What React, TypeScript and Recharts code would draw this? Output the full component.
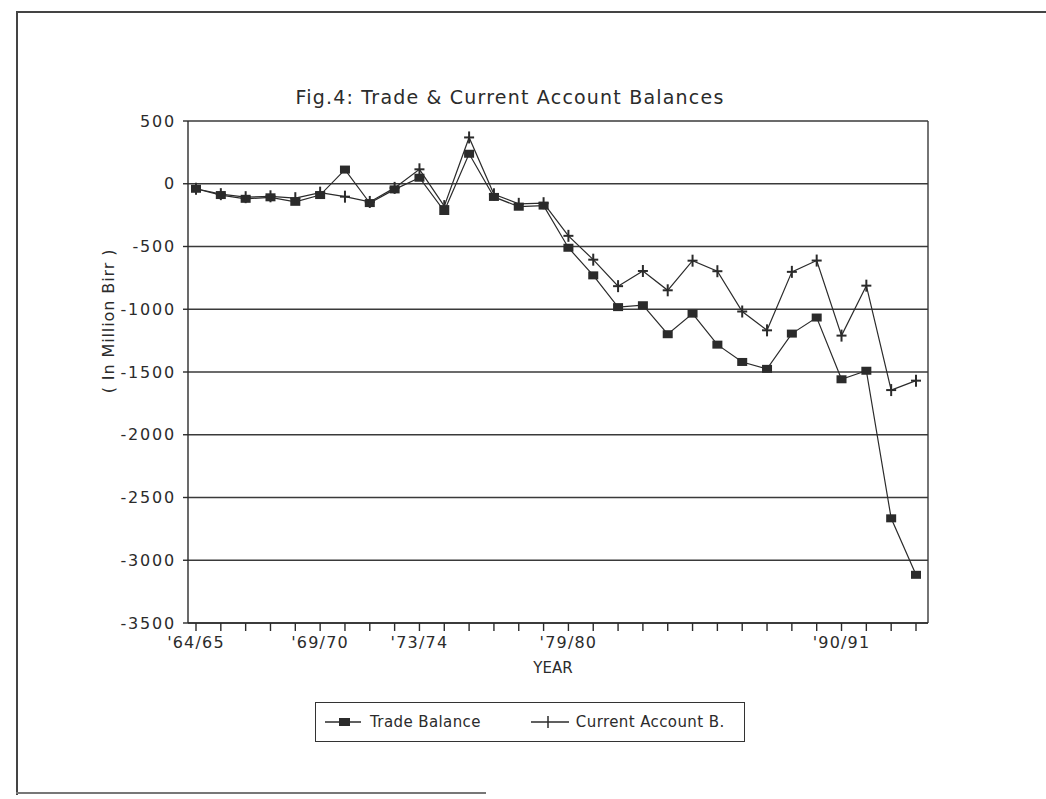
import { CartesianGrid, Line, LineChart, XAxis, YAxis } from "recharts";

const years = [
	"'64/65", "'65/66", "'66/67", "'67/68", "'68/69", "'69/70", "'70/71", "'71/72",
	"'72/73", "'73/74", "'74/75", "'75/76", "'76/77", "'77/78", "'78/79", "'79/80",
	"'80/81", "'81/82", "'82/83", "'83/84", "'84/85", "'85/86", "'86/87", "'87/88",
	"'88/89", "'89/90", "'90/91", "'91/92", "'92/93", "'93/94",
];

const tradeBalance = [
	-40, -90, -120, -108, -144, -90, 113, -154, -45, 48, -217, 239, -105, -183, -174,
	-510, -730, -983, -968, -1199, -1035, -1282, -1420, -1475, -1194, -1066, -1558,
	-1490, -2666, -3116,
];

const currentAccount = [
	-40, -83, -107, -100, -115, -71, -103, -145, -33, 115, -178, 369, -84, -160, -155,
	-415, -605, -816, -695, -849, -613, -697, -1018, -1168, -702, -612, -1210, -812,
	-1644, -1569,
];

const shownYears = ["'64/65", "'69/70", "'73/74", "'79/80", "'90/91"];
const yTicks = [500, 0, -500, -1000, -1500, -2000, -2500, -3000, -3500];

const chartData = years.map((year, i) => ({
	year,
	trade: tradeBalance[i],
	current: currentAccount[i],
}));

const ink = "#2b2b2b";
const font = "'DejaVu Sans', sans-serif";

const SquareDot = (props: any) => {
	const { cx, cy, index } = props;
	if (cx == null || cy == null) return null;
	return <rect key={`sq-${index}`} x={cx - 5} y={cy - 4} width={10} height={8} fill={ink} />;
};

const PlusDot = (props: any) => {
	const { cx, cy, index } = props;
	if (cx == null || cy == null) return null;
	return (
		<g key={`pl-${index}`} stroke={ink} strokeWidth={2}>
			<line x1={cx - 5} y1={cy} x2={cx + 5} y2={cy} />
			<line x1={cx} y1={cy - 6} x2={cx} y2={cy + 6} />
		</g>
	);
};

export default function App() {
	return (
		<div
			style={{
				position: "absolute",
				left: 0,
				top: 0,
				width: 1046,
				height: 799,
				background: "#fff",
				fontFamily: font,
				color: ink,
				overflow: "hidden",
			}}
		>
			{/* scanned page frame */}
			<div style={{ position: "absolute", left: 16, top: 11, width: 1040, height: 782, borderTop: "2px solid #444", borderLeft: "2px solid #444" }} />
			<div style={{ position: "absolute", left: 16, top: 792, width: 470, borderTop: "2px solid #777" }} />

			<div style={{ position: "absolute", left: 210, width: 600, top: 86, textAlign: "center", fontSize: 19, letterSpacing: 1.2 }}>
				Fig.4: Trade &amp; Current Account Balances
			</div>

			<LineChart
				width={1046}
				height={799}
				data={chartData}
				margin={{ top: 121, right: 118, left: 108, bottom: 136 }}
				style={{ position: "absolute", left: 0, top: 0 }}
			>
				<CartesianGrid
					stroke="#3a3a3a"
					strokeWidth={1.4}
					verticalCoordinatesGenerator={({ offset }: any) => [offset.left + offset.width]}
				/>
				<XAxis
					dataKey="year"
					interval={0}
					padding={{ left: 8, right: 12 }}
					tickFormatter={(v: string) => (shownYears.includes(v) ? v : "")}
					tickSize={8}
					tickMargin={6}
					stroke={ink}
					strokeWidth={1.4}
					tick={{ fill: ink, fontSize: 16, fontFamily: font, letterSpacing: 1.2 }}
					height={40}
				/>
				<YAxis
					domain={[-3500, 500]}
					ticks={yTicks}
					interval={0}
					tickSize={5}
					tickMargin={7}
					stroke={ink}
					strokeWidth={1.4}
					tick={{ fill: ink, fontSize: 16, fontFamily: font, letterSpacing: 1.8 }}
					width={80}
				/>
				<Line
					dataKey="trade"
					stroke={ink}
					strokeWidth={1.2}
					dot={SquareDot}
					activeDot={false}
					isAnimationActive={false}
				/>
				<Line
					dataKey="current"
					stroke={ink}
					strokeWidth={1.2}
					dot={PlusDot}
					activeDot={false}
					isAnimationActive={false}
				/>
			</LineChart>

			<div
				style={{
					position: "absolute",
					left: 108,
					top: 321,
					transform: "translate(-50%, -50%) rotate(-90deg)",
					whiteSpace: "nowrap",
					fontSize: 16,
					letterSpacing: 0.9,
				}}
			>
				( In Million Birr )
			</div>

			<div style={{ position: "absolute", left: 553, top: 668, transform: "translate(-50%, -50%)", fontSize: 15 }}>
				YEAR
			</div>

			<div
				style={{
					position: "absolute",
					left: 315,
					top: 702,
					width: 428,
					height: 38,
					border: "1.5px solid #333",
					display: "flex",
					alignItems: "center",
					fontSize: 15,
					letterSpacing: 0.4,
				}}
			>
				<svg width={36} height={12} style={{ marginLeft: 9 }}>
					<line x1={0} y1={6} x2={36} y2={6} stroke={ink} strokeWidth={1.5} />
					<rect x={14} y={2} width={11} height={8} fill={ink} />
				</svg>
				<span style={{ marginLeft: 9 }}>Trade Balance</span>
				<svg width={38} height={14} style={{ marginLeft: 50 }}>
					<line x1={0} y1={7} x2={38} y2={7} stroke={ink} strokeWidth={1.5} />
					<line x1={17} y1={1} x2={17} y2={13} stroke={ink} strokeWidth={1.5} />
				</svg>
				<span style={{ marginLeft: 7 }}>Current Account B.</span>
			</div>
		</div>
	);
}
